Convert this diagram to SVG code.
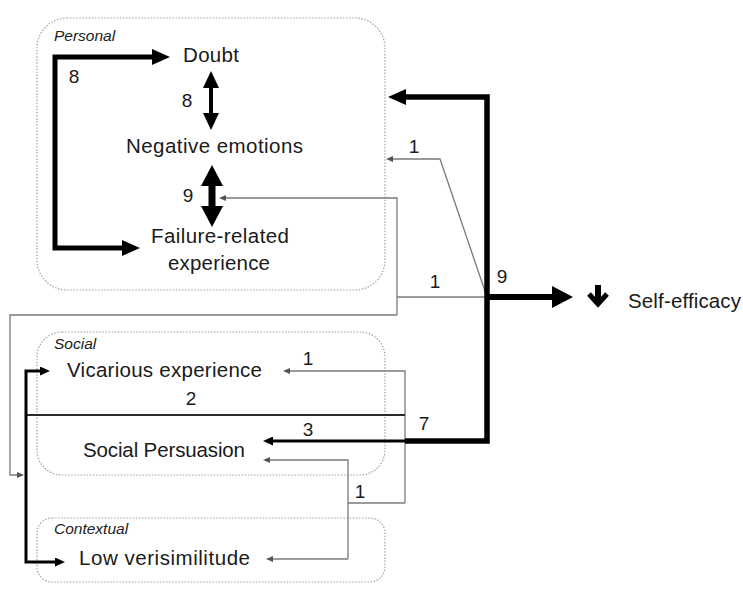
<svg xmlns="http://www.w3.org/2000/svg" width="743" height="589" viewBox="0 0 743 589">
  <style>
    .frame { fill: none; stroke: #a0a0a0; stroke-width: 1.2; stroke-dasharray: 1.5 1.6; }
    .cat { font-family: "Liberation Sans", Arial, sans-serif; font-style: italic; font-size: 15.5px; fill: #222; }
    .lbl { font-family: "Liberation Sans", Arial, sans-serif; font-size: 20.5px; fill: #1a1a1a; }
    .num { font-family: "Liberation Sans", Arial, sans-serif; font-size: 19px; fill: #1a1a1a; text-anchor: middle; }
    .thin { fill: none; stroke: #7a7a7a; stroke-width: 1.3; }
    .blk { fill: none; stroke: #000; stroke-linejoin: miter; }
  </style>
  <defs>
    <marker id="ah-xl" viewBox="0 0 21 22" refX="1" refY="11" markerWidth="21" markerHeight="22" markerUnits="userSpaceOnUse" orient="auto-start-reverse">
      <path d="M0,0 L21,11 L0,22 z" fill="#000"/>
    </marker>
    <marker id="ah-lg" viewBox="0 0 18 16" refX="1" refY="8" markerWidth="18" markerHeight="16" markerUnits="userSpaceOnUse" orient="auto-start-reverse">
      <path d="M0,0 L18,8 L0,16 z" fill="#000"/>
    </marker>
    <marker id="ah-md" viewBox="0 0 17 16" refX="1" refY="8" markerWidth="17" markerHeight="16" markerUnits="userSpaceOnUse" orient="auto-start-reverse">
      <path d="M0,0 L17,8 L0,16 z" fill="#000"/>
    </marker>
    <marker id="ah-sm" viewBox="0 0 10 9" refX="1" refY="4.5" markerWidth="10" markerHeight="9" markerUnits="userSpaceOnUse" orient="auto-start-reverse">
      <path d="M0,0 L10,4.5 L0,9 z" fill="#000"/>
    </marker>
    <marker id="ah-gray" viewBox="0 0 7 6" refX="1" refY="3" markerWidth="7" markerHeight="6" markerUnits="userSpaceOnUse" orient="auto-start-reverse">
      <path d="M0,0 L7,3 L0,6 z" fill="#555"/>
    </marker>
  </defs>

  <rect width="743" height="589" fill="#fff"/>

  <!-- category frames -->
  <g id="personal">
    <rect class="frame" x="37" y="18" width="348" height="272" rx="30"/>
    <text class="cat" x="54" y="41">Personal</text>
  </g>
  <g id="social">
    <rect class="frame" x="37" y="332" width="348" height="143" rx="25"/>
    <text class="cat" x="54" y="349">Social</text>
  </g>
  <g id="contextual">
    <rect class="frame" x="37" y="518" width="348" height="64" rx="15"/>
    <text class="cat" x="54" y="534">Contextual</text>
  </g>

  <!-- factor nodes -->
  <g id="doubt"><text class="lbl" x="183" y="62" textLength="56" lengthAdjust="spacing">Doubt</text></g>
  <g id="negative-emotions"><text class="lbl" x="126" y="153" textLength="177" lengthAdjust="spacing">Negative emotions</text></g>
  <g id="failure-experience">
    <text class="lbl" x="151" y="243" textLength="138" lengthAdjust="spacing">Failure-related</text>
    <text class="lbl" x="168" y="270" textLength="102" lengthAdjust="spacing">experience</text>
  </g>
  <g id="vicarious"><text class="lbl" x="67" y="377" textLength="195" lengthAdjust="spacing">Vicarious experience</text></g>
  <g id="persuasion"><text class="lbl" x="83" y="457" textLength="162" lengthAdjust="spacing">Social Persuasion</text></g>
  <g id="verisimilitude"><text class="lbl" x="79" y="565" textLength="171" lengthAdjust="spacing">Low verisimilitude</text></g>
  <g id="self-efficacy">
    <path d="M598,285 V302" stroke="#000" stroke-width="6" fill="none"/>
    <path d="M589,294 L598,304 L607,294" stroke="#000" stroke-width="5" fill="none"/>
    <text class="lbl" x="628" y="308" textLength="113" lengthAdjust="spacing">Self-efficacy</text>
  </g>

  <!-- connectors -->
  <g id="connectors">
    <!-- thin grey links -->
    <path class="thin" d="M487,297 H397"/>
    <path class="thin" d="M397,315 V198 H225" marker-end="url(#ah-gray)"/>
    <path class="thin" d="M397,315 H10 V475 H18" marker-end="url(#ah-gray)"/>
    <path class="thin" d="M487,297 L440,159 H392" marker-end="url(#ah-gray)"/>
    <path class="thin" d="M405,503 V371 H289" marker-end="url(#ah-gray)"/>
    <path class="thin" d="M405,503 H348"/>
    <path class="thin" d="M348,559 V460 H269" marker-end="url(#ah-gray)"/>
    <path class="thin" d="M348,559 H272" marker-end="url(#ah-gray)"/>

    <!-- line 2 to the left bracket -->
    <path d="M405,415 H26" fill="none" stroke="#2a2a2a" stroke-width="2"/>
    <path class="blk" stroke-width="3" d="M41,371 H26 V562 H56" marker-start="url(#ah-sm)" marker-end="url(#ah-sm)"/>

    <!-- personal bracket and double arrows -->
    <path class="blk" stroke-width="5" d="M153,57 H55 V248 H123" marker-start="url(#ah-lg)" marker-end="url(#ah-lg)"/>
    <path class="blk" stroke-width="4" d="M211,87 V114" marker-start="url(#ah-md)" marker-end="url(#ah-md)"/>
    <path class="blk" stroke-width="7" d="M212,185 V207" marker-start="url(#ah-xl)" marker-end="url(#ah-xl)"/>

    <!-- main trunk -->
    <path class="blk" stroke-width="5.5" d="M405,441 H487 V97 H405" marker-end="url(#ah-lg)"/>
    <path class="blk" stroke-width="6" d="M487,297 H553" marker-end="url(#ah-xl)"/>
    <path class="blk" stroke-width="3" d="M407,441 H272" marker-end="url(#ah-sm)"/>

    <!-- counts -->
    <text class="num" x="74" y="83">8</text>
    <text class="num" x="187" y="107">8</text>
    <text class="num" x="188" y="202">9</text>
    <text class="num" x="414" y="153">1</text>
    <text class="num" x="435" y="288">1</text>
    <text class="num" x="502" y="283">9</text>
    <text class="num" x="308" y="365">1</text>
    <text class="num" x="191" y="405">2</text>
    <text class="num" x="308" y="436">3</text>
    <text class="num" x="424" y="430">7</text>
    <text class="num" x="360" y="498">1</text>
  </g>
</svg>
